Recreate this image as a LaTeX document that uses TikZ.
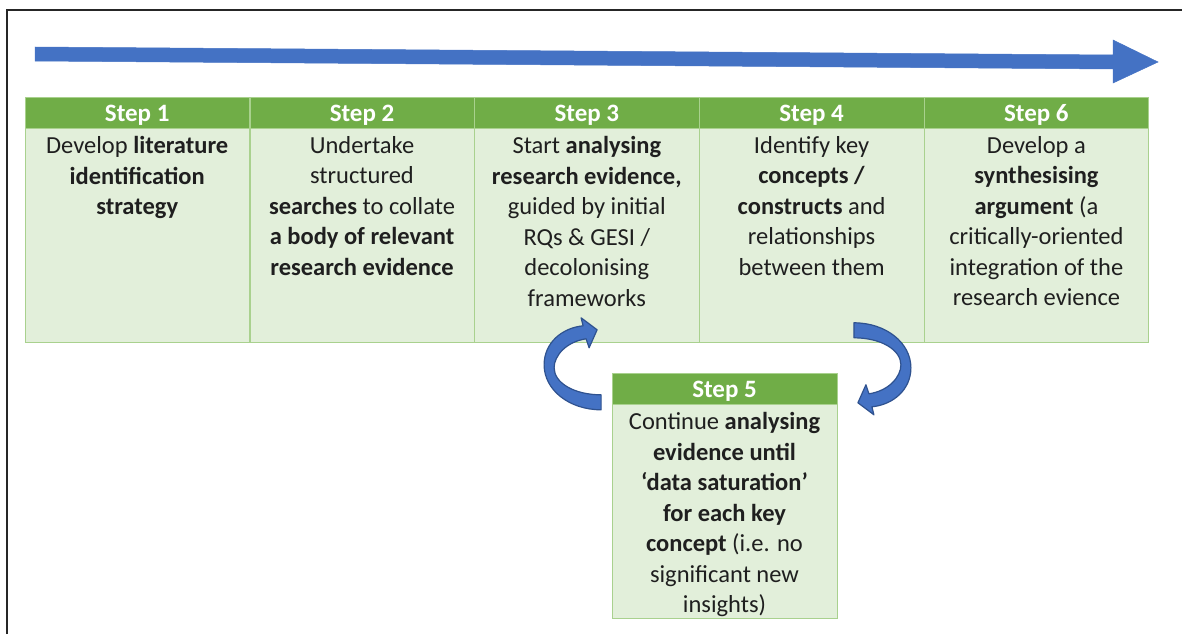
\documentclass[tikz,border=0pt]{standalone}
\usepackage{fontspec}
\setmainfont{Carlito}
\usetikzlibrary{positioning, calc}
\definecolor{hdrgreen}{HTML}{70AD47}
\definecolor{cellgreen}{HTML}{E2EFDA}
\definecolor{linegreen}{HTML}{A9D18E}
\definecolor{arrowblue}{HTML}{4472C4}
\definecolor{edgeblue}{HTML}{2F528F}
\tikzset{
    stephead/.style={
        rectangle,
        draw=linegreen,
        fill=hdrgreen,
        minimum width=224.4pt,
        minimum height=31pt,
        inner sep=0pt,
        text height=17pt,
        text depth=0pt,
        text=white,
        font=\fontsize{25}{28}\selectfont\bfseries
    },
    stepbody/.style={
        rectangle,
        draw=linegreen,
        fill=cellgreen,
        minimum width=224.4pt,
        minimum height=214pt,
        inner sep=0pt
    },
    steptext/.style={
        align=center,
        inner sep=0pt,
        text=black!88,
        font=\fontsize{24.5}{30.5}\selectfont
    },
    timeline/.style={
        fill=arrowblue,
        draw=arrowblue,
        line width=0.5pt
    },
    looparrow/.style={
        fill=arrowblue,
        draw=edgeblue,
        line width=1.2pt,
        line join=round
    }
}

\begin{document}
\begin{tikzpicture}[x=1pt, y=-1pt]
\useasboundingbox (0,0) rectangle (1182,634);

% Frame
\draw[line width=1.5pt, black!85] (7,634) -- (7,10) -- (1182,10);

% Timeline arrow
\coordinate (tlstart) at (35,54);
\coordinate (tlend) at (1158,62);
\path[timeline] ($(tlstart)+(0,-7)$) -- (1113,55) -- (1113,40) -- (tlend)
    -- (1113,83) -- (1113,69) -- ($(tlstart)+(0,7)$) -- cycle;

% Steps in a row
\node[stephead] (hdr1) at (137.2,112.5) {Step 1};
\node[stephead, right=0pt of hdr1] (hdr2) {Step 2};
\node[stephead, right=0pt of hdr2] (hdr3) {Step 3};
\node[stephead, right=0pt of hdr3] (hdr4) {Step 4};
\node[stephead, right=0pt of hdr4] (hdr6) {Step 6};

\node[stepbody, below=0pt of hdr1] (body1) {};
\node[stepbody, below=0pt of hdr2] (body2) {};
\node[stepbody, below=0pt of hdr3] (body3) {};
\node[stepbody, below=0pt of hdr4] (body4) {};
\node[stepbody, below=0pt of hdr6] (body6) {};

\node[steptext, below=8pt of body1.north] (txt1) {Develop \textbf{literature}\\ \textbf{identification}\\ \textbf{strategy}};
\node[steptext, below=8pt of body2.north] (txt2) {Undertake\\ structured\\ \textbf{searches} to collate\\ \textbf{a body of relevant}\\ \textbf{research evidence}};
\node[steptext, below=8pt of body3.north] (txt3) {Start \textbf{analysing}\\ \textbf{research evidence,}\\ guided by initial\\ RQs \& GESI /\\ decolonising\\ frameworks};
\node[steptext, below=8pt of body4.north] (txt4) {Identify key\\ \textbf{concepts /}\\ \textbf{constructs} and\\ relationships\\ between them};
\node[steptext, below=8pt of body6.north] (txt6) {Develop a\\ \textbf{synthesising}\\ \textbf{argument} (a\\ critically-oriented\\ integration of the\\ research evience};

% Step 5 below
\node[stephead] (hdr5) at (724.5,388.5) {Step 5};
\node[stepbody, below=0pt of hdr5] (body5) {};
\node[steptext, below=8pt of body5.north] (txt5) {Continue \textbf{analysing}\\ \textbf{evidence until}\\ \textbf{‘data saturation’}\\ \textbf{for each key}\\ \textbf{concept} (i.e. no\\ significant new\\ insights)};

% Loop arrows
\path[looparrow, shift={($(hdr5.north west)+(-38,-5)$)}]
    (27,42) .. controls (-5,42) and (-30,22) .. (-30,-3)
    .. controls (-30,-25) and (-12,-40) .. (9,-42)
    -- (7,-50) -- (23,-38) -- (15,-20) -- (12,-29)
    .. controls (-8,-26) and (-20,-12) .. (-20,0)
    .. controls (-20,15) and (0,27) .. (27,27) -- cycle;
\path[looparrow, shift={($(hdr5.north east)+(44,-8)$)}, rotate=180]
    (27,42) .. controls (-5,42) and (-30,22) .. (-30,-3)
    .. controls (-30,-25) and (-12,-40) .. (9,-42)
    -- (7,-50) -- (23,-38) -- (15,-20) -- (12,-29)
    .. controls (-8,-26) and (-20,-12) .. (-20,0)
    .. controls (-20,15) and (0,27) .. (27,27) -- cycle;

\end{tikzpicture}
\end{document}
